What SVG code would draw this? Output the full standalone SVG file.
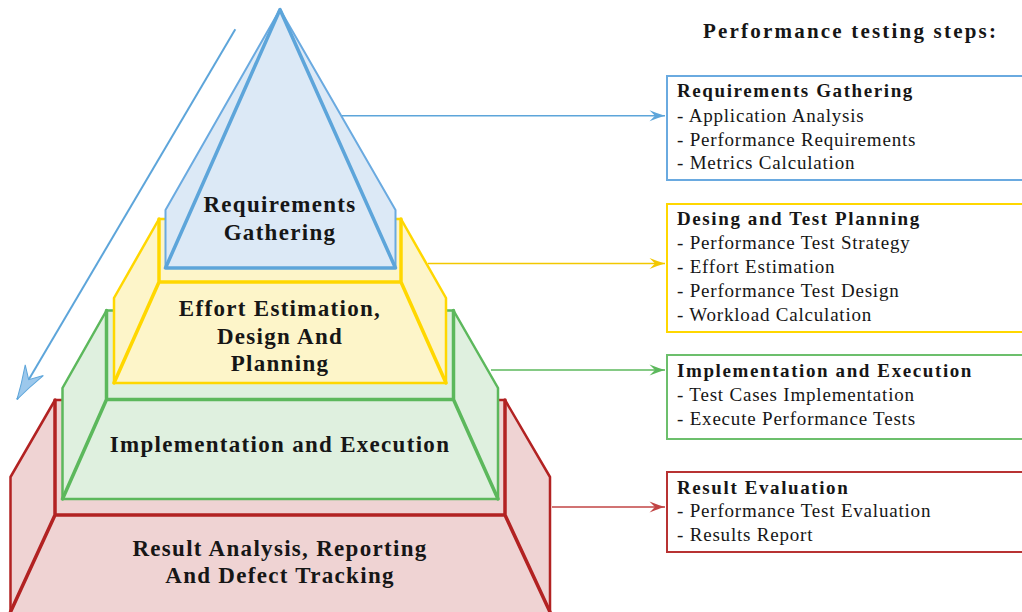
<svg xmlns="http://www.w3.org/2000/svg" width="1022" height="612" viewBox="0 0 1022 612">
<style>
text{font-family:"Liberation Serif","Times New Roman",serif;fill:#161616}
.lbl{font-size:23px;font-weight:bold;letter-spacing:1.3px;text-anchor:middle}
.bt{font-size:19px;font-weight:bold;letter-spacing:1.6px}
.bl{font-size:19px;letter-spacing:0.8px}
.ttl{font-size:21px;font-weight:bold;letter-spacing:2.2px}
.o{stroke-width:2.5;stroke-linejoin:round}
.i{fill:none;stroke-width:3.5;stroke-linejoin:round;stroke-linecap:round}
.box{fill:#fff;stroke-width:2}
.con{fill:none;stroke-width:1.4}
</style>
<defs>
<marker id="aB" viewBox="-17 -7 18 14" refX="0" refY="0" markerWidth="18" markerHeight="14" markerUnits="userSpaceOnUse" orient="auto"><path d="M0,0 Q-7,-2 -15.5,-5.5 L-10,0 L-15.5,5.5 Q-7,2 0,0Z" fill="#5DA5DA"/></marker>
<marker id="aY" viewBox="-17 -7 18 14" refX="0" refY="0" markerWidth="18" markerHeight="14" markerUnits="userSpaceOnUse" orient="auto"><path d="M0,0 Q-7,-2 -15.5,-5.5 L-10,0 L-15.5,5.5 Q-7,2 0,0Z" fill="#F2C800"/></marker>
<marker id="aG" viewBox="-17 -7 18 14" refX="0" refY="0" markerWidth="18" markerHeight="14" markerUnits="userSpaceOnUse" orient="auto"><path d="M0,0 Q-7,-2 -15.5,-5.5 L-10,0 L-15.5,5.5 Q-7,2 0,0Z" fill="#5CB85C"/></marker>
<marker id="aR" viewBox="-17 -7 18 14" refX="0" refY="0" markerWidth="18" markerHeight="14" markerUnits="userSpaceOnUse" orient="auto"><path d="M0,0 Q-7,-2 -15.5,-5.5 L-10,0 L-15.5,5.5 Q-7,2 0,0Z" fill="#C24444"/></marker>
<marker id="aBig" viewBox="-36 -12 38 24" refX="0" refY="0" markerWidth="38" markerHeight="24" markerUnits="userSpaceOnUse" orient="auto"><path d="M0,0 Q-16,-4 -34,-10.5 L-23,0 L-34,10.5 Q-16,4 0,0Z" fill="#9CC8EC" stroke="#5DA5DA" stroke-width="1"/></marker>
</defs>

<g id="layer-result">
<polygon class="o" points="55,400 505,400 550,477 550,614 10.5,614 10.5,477" fill="#EFD3D3" stroke="#B22222"/>
<path class="i" d="M55,400 V515 H505 V400 M55,515 L10.5,612 M505,515 L550,612" stroke="#B22222"/>
</g>

<g id="layer-implementation">
<polygon class="o" points="106.5,310.5 453.5,310.5 498,388 498,499 62.5,499 62.5,388" fill="#DFF0DF" stroke="#5CB85C"/>
<path class="i" d="M106.5,310.5 V399.5 H453.5 V310.5 M106.5,399.5 L62.5,499 M453.5,399.5 L498,499" stroke="#5CB85C"/>
</g>

<g id="layer-effort">
<polygon class="o" points="159,219 401,219 446,298 446,383 114,383 114,298" fill="#FDF5C9" stroke="#FFD700"/>
<path class="i" d="M159,219 V282 H401 V219 M159,282 L114,383 M401,282 L446,383" stroke="#FFD700"/>
</g>

<g id="layer-requirements">
<polygon points="280,9.5 395.5,210 395.5,268 165.5,268 165.5,210" fill="#DCE9F6" stroke="#6AAAE0" stroke-width="2" stroke-linejoin="round"/>
<path class="i" d="M280,9.5 L165.5,268 H395.5 Z" stroke="#5DA5DA" stroke-width="3"/>
</g>

<g id="pyramid-labels">
<text class="lbl" x="280" y="212.3">Requirements</text>
<text class="lbl" x="280" y="240">Gathering</text>
<text class="lbl" x="280" y="316">Effort Estimation,</text>
<text class="lbl" x="280" y="343.5">Design And</text>
<text class="lbl" x="280" y="371">Planning</text>
<text class="lbl" x="280" y="451.7">Implementation and Execution</text>
<text class="lbl" x="280" y="555.7">Result Analysis, Reporting</text>
<text class="lbl" x="280" y="583.3">And Defect Tracking</text>
</g>

<g id="connectors">
<path d="M235.3,29.3 L17,399.5" fill="none" stroke="#5DA5DA" stroke-width="2" marker-end="url(#aBig)"/>
<path class="con" d="M342,115.7 H665" stroke="#5DA5DA" marker-end="url(#aB)"/>
<path class="con" d="M428,263.5 H665" stroke="#F2C800" marker-end="url(#aY)"/>
<path class="con" d="M491,370 H665" stroke="#5CB85C" marker-end="url(#aG)"/>
<path class="con" d="M552,507 H665" stroke="#C24444" marker-end="url(#aR)"/>
</g>

<text id="title" class="ttl" x="703" y="38.3">Performance testing steps:</text>

<g id="box-requirements">
<rect class="box" x="667" y="76" width="370" height="104" stroke="#6AAAE0"/>
<text class="bt" x="677" y="97">Requirements Gathering</text>
<text class="bl" x="677" y="121.6">- Application Analysis</text>
<text class="bl" x="677" y="145.6">- Performance Requirements</text>
<text class="bl" x="677" y="169.4">- Metrics Calculation</text>
</g>

<g id="box-design">
<rect class="box" x="667" y="204" width="370" height="128" stroke="#FFD700"/>
<text class="bt" x="677" y="225">Desing and Test Planning</text>
<text class="bl" x="677" y="249">- Performance Test Strategy</text>
<text class="bl" x="677" y="273">- Effort Estimation</text>
<text class="bl" x="677" y="297">- Performance Test Design</text>
<text class="bl" x="677" y="321">- Workload Calculation</text>
</g>

<g id="box-implementation">
<rect class="box" x="667" y="355" width="370" height="84" stroke="#6CBF6C"/>
<text class="bt" x="677" y="377">Implementation and Execution</text>
<text class="bl" x="677" y="401">- Test Cases Implementation</text>
<text class="bl" x="677" y="425">- Execute Performance Tests</text>
</g>

<g id="box-result">
<rect class="box" x="667" y="472" width="370" height="80" stroke="#B83232"/>
<text class="bt" x="677" y="493.5">Result Evaluation</text>
<text class="bl" x="677" y="517">- Performance Test Evaluation</text>
<text class="bl" x="677" y="541">- Results Report</text>
</g>
</svg>
